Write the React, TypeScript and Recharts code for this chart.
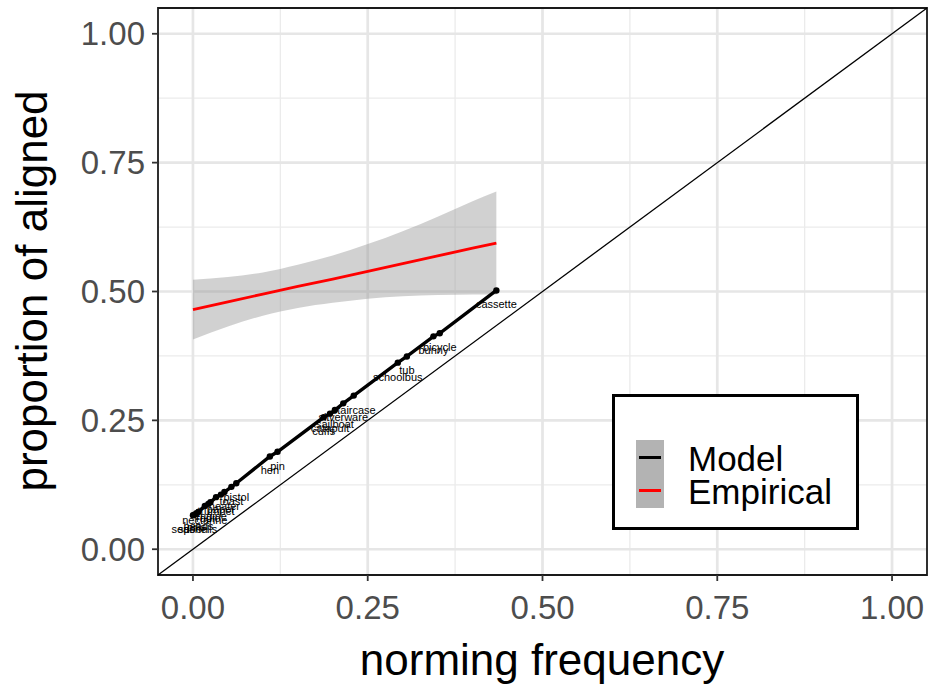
import React from 'react';
import {
  ComposedChart,
  XAxis,
  YAxis,
  CartesianGrid,
  Area,
  Line,
  Scatter,
  ReferenceLine,
  ReferenceArea,
} from 'recharts';

// ---------- data ----------
const AXIS_TICKS = [0, 0.25, 0.5, 0.75, 1];
const MINOR_TICKS = [0.125, 0.375, 0.625, 0.875];

// empirical linear fit with confidence band
const ribbonX = [0, 0.05, 0.1, 0.15, 0.2, 0.25, 0.3, 0.35, 0.4, 0.434];
const ribbonLow = [0.407, 0.432, 0.453, 0.468, 0.478, 0.486, 0.491, 0.493, 0.494, 0.494];
const ribbonHigh = [0.523, 0.528, 0.537, 0.552, 0.57, 0.592, 0.617, 0.645, 0.675, 0.694];
const empiricalFit = [0.465, 0.48, 0.495, 0.51, 0.524, 0.539, 0.554, 0.569, 0.584, 0.594];

// model points (word items)
const modelLabels = [
  'spoon', 'seashells', 'pills', 'beads',
  'nectarine', 'radio', 'engine',
  'trumpet', 'paper', 'heater',
  'toast', 'pistol',
  'hen', 'pin',
  'cuffs', 'catapult', 'sailboat', 'silverware', 'staircase',
  'schoolbus', 'tub', 'bunny', 'bicycle', 'cassette',
];
const modelX = [
  0.0, 0.002, 0.005, 0.008,
  0.017, 0.022, 0.025,
  0.033, 0.04, 0.045,
  0.055, 0.062,
  0.11, 0.121,
  0.187, 0.196, 0.203, 0.215, 0.23,
  0.293, 0.306, 0.344, 0.353, 0.434,
];
const modelY = [
  0.066, 0.067, 0.07, 0.073,
  0.084, 0.088, 0.091,
  0.101, 0.106, 0.111,
  0.121, 0.128,
  0.18, 0.189,
  0.256, 0.263, 0.27, 0.283, 0.298,
  0.362, 0.374, 0.413, 0.419, 0.502,
];

const ribbonData = ribbonX.map((x, i) => ({
  x,
  band: [ribbonLow[i], ribbonHigh[i]],
  fit: empiricalFit[i],
}));
const modelData = modelX.map((x, i) => ({ x, y: modelY[i], label: modelLabels[i] }));

const FONT = '"Liberation Sans", Arial, Helvetica, sans-serif';
const fmt = (v: number) => v.toFixed(2);

const LabelShape = (props: any) => {
  const { cx, cy, payload } = props;
  if (cx == null || cy == null) return <g />;
  return (
    <text x={cx} y={cy + 18} textAnchor="middle" fontSize={11} fill="#000" fontFamily={FONT}>
      {payload.label}
    </text>
  );
};

const PointShape = (props: any) => {
  const { cx, cy } = props;
  if (cx == null || cy == null) return <g />;
  return <circle cx={cx} cy={cy} r={3.2} fill="#000" />;
};

export default function App() {
  return (
    <div style={{ position: 'absolute', left: 0, top: 0, width: 931, height: 686, background: '#fff', fontFamily: FONT }}>
      <ComposedChart
        width={931}
        height={686}
        data={ribbonData}
        margin={{ top: 8, right: 4, bottom: 0, left: 0 }}
      >
        <CartesianGrid
          stroke="#ebebeb"
          strokeWidth={1.3}
          horizontalValues={MINOR_TICKS}
          verticalValues={MINOR_TICKS}
        />
        <CartesianGrid
          stroke="#e6e6e6"
          strokeWidth={2.7}
          horizontalValues={AXIS_TICKS}
          verticalValues={AXIS_TICKS}
        />
        <XAxis
          type="number"
          dataKey="x"
          domain={[-0.05, 1.05]}
          allowDataOverflow
          ticks={AXIS_TICKS}
          interval={0}
          tickFormatter={fmt}
          axisLine={false}
          tickLine={{ stroke: '#333', strokeWidth: 1.8 }}
          tickSize={6}
          tickMargin={15}
          tick={{ fill: '#4d4d4d', fontSize: 33, fontFamily: FONT }}
          height={111}
          label={{
            content: () => (
              <text x={542} y={675} textAnchor="middle" fontSize={44} fill="#000" fontFamily={FONT}>
                norming frequency
              </text>
            ),
          }}
        />
        <YAxis
          type="number"
          dataKey="y"
          domain={[-0.05, 1.05]}
          allowDataOverflow
          ticks={AXIS_TICKS}
          interval={0}
          tickFormatter={fmt}
          axisLine={false}
          tickLine={{ stroke: '#333', strokeWidth: 1.8 }}
          tickSize={6}
          tickMargin={7}
          tick={{ fill: '#4d4d4d', fontSize: 33, fontFamily: FONT }}
          width={158}
          label={{
            content: () => (
              <text
                x={47}
                y={291}
                transform="rotate(-90, 47, 291)"
                textAnchor="middle"
                fontSize={44}
                fill="#000"
                fontFamily={FONT}
              >
                proportion of aligned
              </text>
            ),
          }}
        />
        <Area
          dataKey="band"
          type="monotone"
          stroke="none"
          fill="#999999"
          fillOpacity={0.45}
          isAnimationActive={false}
          activeDot={false}
        />
        <Line
          dataKey="fit"
          type="linear"
          stroke="#ff0000"
          strokeWidth={2.8}
          dot={false}
          activeDot={false}
          isAnimationActive={false}
        />
        <ReferenceLine
          segment={[{ x: -0.05, y: -0.05 }, { x: 1.05, y: 1.05 }]}
          stroke="#000"
          strokeWidth={1.3}
          ifOverflow="visible"
        />
        <Scatter data={modelData} shape={LabelShape} isAnimationActive={false} />
        <Scatter
          data={modelData}
          shape={PointShape}
          line={{ stroke: '#000', strokeWidth: 3.4 }}
          isAnimationActive={false}
        />
        <ReferenceArea
          x1={-0.05}
          x2={1.05}
          y1={-0.05}
          y2={1.05}
          fill="none"
          fillOpacity={0}
          stroke="#1a1a1a"
          strokeWidth={1.8}
          ifOverflow="visible"
        />
      </ComposedChart>

      <div
        style={{
          position: 'absolute',
          left: 612,
          top: 394,
          width: 247,
          height: 136,
          border: '3px solid #000',
          boxSizing: 'border-box',
          background: '#fff',
        }}
      />
      <div style={{ position: 'absolute', left: 636, top: 440, width: 28, height: 68, background: '#b3b3b3' }}>
        <div style={{ position: 'absolute', left: 3, top: 16, width: 22, height: 3, background: '#000' }} />
        <div style={{ position: 'absolute', left: 3, top: 49, width: 22, height: 3, background: '#ff0000' }} />
      </div>
      <div style={{ position: 'absolute', left: 688, top: 441, fontSize: 35, lineHeight: '35px', color: '#000', fontFamily: FONT, whiteSpace: 'nowrap' }}>
        Model
      </div>
      <div style={{ position: 'absolute', left: 688, top: 474, fontSize: 35, lineHeight: '35px', color: '#000', fontFamily: FONT, whiteSpace: 'nowrap' }}>
        Empirical
      </div>
    </div>
  );
}
